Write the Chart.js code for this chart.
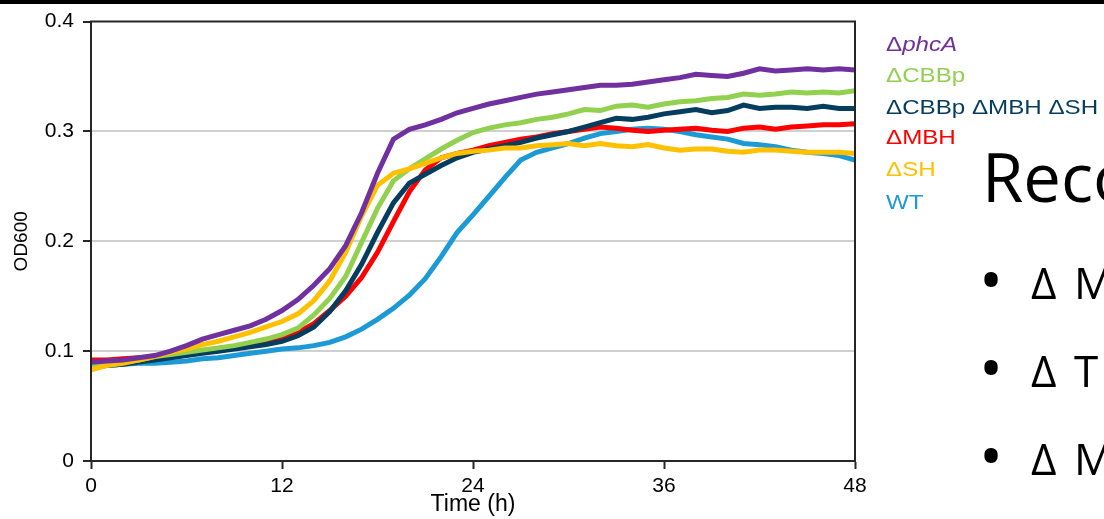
<!DOCTYPE html>
<html>
<head>
<meta charset="utf-8">
<script src="https://cdn.jsdelivr.net/npm/chart.js@4/dist/chart.umd.min.js"></script>
<style>
  html, body { margin: 0; padding: 0; background: #fff; }
  #wrap { position: relative; width: 1104px; height: 519px; overflow: hidden; background: #fff; }
  #chart { position: absolute; left: 0; top: 0; }
  .topbar { position: absolute; left: 0; top: 0; width: 1104px; height: 4px; background: #000; }
  .legend { position: absolute; left: 886px; top: 0; font-family: 'Liberation Sans', Arial, sans-serif; font-size: 21px; white-space: nowrap; }
  .legend div { position: absolute; left: 0; transform-origin: 0 50%; transform: scaleX(1.15); line-height: 24px; }
  .slide { position: absolute; font-family: 'Open Sans', 'Noto Sans', sans-serif; color: #000; white-space: nowrap; line-height: 1; }
  .dot { font-size: 64px; }
  .item { font-size: 44px; word-spacing: 6px; }
</style>
</head>
<body>
<div id="wrap">
  <canvas id="chart" width="1104" height="519"></canvas>
  <div class="topbar"></div>
  <div class="legend" id="legend"></div>
  <div class="slide" style="left:982px; top:143px; font-size:67px;">Reco</div>
  <div class="slide dot" style="left:979px; top:247px;">•</div>
  <div class="slide item" style="left:1031px; top:260px;">Δ M</div>
  <div class="slide dot" style="left:979px; top:335px;">•</div>
  <div class="slide item" style="left:1031px; top:348px;">Δ T</div>
  <div class="slide dot" style="left:979px; top:423px;">•</div>
  <div class="slide item" style="left:1031px; top:436px;">Δ M</div>
</div>
<script>
// Growth curves (OD600) sampled every hour, 0–48 h
const hours = Array.from({ length: 49 }, (_, i) => i);

const phcA = [
  0.090, 0.091, 0.092, 0.094, 0.096, 0.100, 0.105, 0.111, 0.115, 0.119,
  0.123, 0.129, 0.137, 0.147, 0.160, 0.175, 0.196, 0.226, 0.262, 0.293,
  0.302, 0.306, 0.311, 0.317, 0.321, 0.325, 0.328, 0.331, 0.334, 0.336,
  0.338, 0.340, 0.342, 0.342, 0.343, 0.345, 0.347, 0.349, 0.352, 0.351,
  0.350, 0.353, 0.357, 0.355, 0.356, 0.357, 0.356, 0.357, 0.356
];
const cbbp = [
  0.087, 0.088, 0.090, 0.092, 0.095, 0.097, 0.099, 0.101, 0.103, 0.105,
  0.108, 0.111, 0.115, 0.121, 0.133, 0.148, 0.168, 0.199, 0.230, 0.255,
  0.266, 0.275, 0.284, 0.292, 0.299, 0.303, 0.306, 0.308, 0.311, 0.313,
  0.316, 0.320, 0.319, 0.323, 0.324, 0.322, 0.325, 0.327, 0.328, 0.330,
  0.331, 0.334, 0.333, 0.334, 0.336, 0.335, 0.336, 0.335, 0.337
];
const cbbpMbhSh = [
  0.086, 0.087, 0.088, 0.090, 0.092, 0.094, 0.096, 0.098, 0.100, 0.102,
  0.104, 0.106, 0.109, 0.114, 0.122, 0.136, 0.155, 0.179, 0.208, 0.235,
  0.253, 0.261, 0.269, 0.276, 0.281, 0.284, 0.287, 0.290, 0.294, 0.297,
  0.300, 0.304, 0.308, 0.312, 0.311, 0.313, 0.316, 0.318, 0.320, 0.317,
  0.319, 0.324, 0.321, 0.322, 0.322, 0.321, 0.323, 0.321, 0.321
];
const mbh = [
  0.092, 0.092, 0.093, 0.094, 0.095, 0.097, 0.099, 0.100, 0.102, 0.104,
  0.107, 0.109, 0.111, 0.117, 0.125, 0.137, 0.150, 0.167, 0.190, 0.218,
  0.245, 0.265, 0.276, 0.280, 0.283, 0.287, 0.290, 0.293, 0.295, 0.298,
  0.300, 0.302, 0.304, 0.303, 0.301, 0.300, 0.301, 0.302, 0.303, 0.301,
  0.300, 0.303, 0.304, 0.302, 0.304, 0.305, 0.306, 0.306, 0.307
];
const sh = [
  0.083, 0.087, 0.089, 0.092, 0.095, 0.099, 0.102, 0.106, 0.109, 0.113,
  0.117, 0.122, 0.127, 0.134, 0.146, 0.164, 0.190, 0.223, 0.251, 0.262,
  0.266, 0.271, 0.276, 0.280, 0.282, 0.283, 0.285, 0.285, 0.287, 0.288,
  0.289, 0.287, 0.289, 0.287, 0.286, 0.288, 0.285, 0.283, 0.284, 0.284,
  0.282, 0.281, 0.283, 0.283, 0.282, 0.281, 0.281, 0.281, 0.280
];
const wt = [
  0.086, 0.087, 0.088, 0.089, 0.089, 0.090, 0.091, 0.093, 0.094, 0.096,
  0.098, 0.100, 0.102, 0.103, 0.105, 0.108, 0.113, 0.120, 0.129, 0.139,
  0.151, 0.166, 0.186, 0.208, 0.224, 0.241, 0.258, 0.274, 0.281, 0.285,
  0.289, 0.294, 0.298, 0.300, 0.302, 0.303, 0.302, 0.300, 0.297, 0.295,
  0.293, 0.289, 0.288, 0.286, 0.283, 0.281, 0.280, 0.278, 0.274
];

// Legend entries: [prefix, italic part, rest]
const seriesLabels = [
  ['Δ', 'phcA', ''],
  ['ΔCBBp', '', ''],
  ['ΔCBBp ΔMBH ΔSH', '', ''],
  ['ΔMBH', '', ''],
  ['ΔSH', '', ''],
  ['WT', '', '']
];
const seriesValues = [phcA, cbbp, cbbpMbhSh, mbh, sh, wt];
const seriesColors = ['#7030A0', '#92D050', '#053D5E', '#FF0000', '#FFC000', '#1B9AD6'];
const drawOrder = [0, 2, 3, 4, 1, 5]; // lower = drawn on top

const yTickLabels = ['0', '0.1', '0.2', '0.3', '0.4'];
const xTickValues = [0, 12, 24, 36, 48];

Chart.defaults.font.family = "'Liberation Sans', Arial, sans-serif";
Chart.defaults.color = '#000';

const datasets = seriesValues.map((vals, i) => ({
  label: seriesLabels[i].join(''),
  data: hours.map((h, k) => ({ x: h, y: vals[k] })),
  borderColor: seriesColors[i],
  backgroundColor: seriesColors[i],
  borderWidth: 5,
  pointRadius: 0,
  tension: 0,
  fill: false,
  order: drawOrder[i]
}));

// Box around the plot area
const frame = {
  id: 'frame',
  afterDatasetsDraw(chart) {
    const { ctx, chartArea: a } = chart;
    ctx.save();
    ctx.strokeStyle = '#262626';
    ctx.lineWidth = 2;
    ctx.beginPath();
    ctx.moveTo(a.left, a.bottom);
    ctx.lineTo(a.left, a.top);
    ctx.lineTo(a.right, a.top);
    ctx.lineTo(a.right, a.bottom);
    ctx.stroke();
    ctx.restore();
  }
};

new Chart(document.getElementById('chart'), {
  type: 'line',
  data: { datasets },
  plugins: [frame],
  options: {
    responsive: false,
    animation: false,
    layout: { padding: { top: 19, right: 249, left: 0, bottom: 0 } },
    plugins: { legend: { display: false }, tooltip: { enabled: false } },
    scales: {
      x: {
        type: 'linear',
        min: 0,
        max: 48,
        afterBuildTicks(scale) { scale.ticks = xTickValues.map(v => ({ value: v })); },
        ticks: { font: { size: 21 }, padding: 5, maxRotation: 0, color: '#000' },
        grid: { drawOnChartArea: false, drawTicks: true, tickLength: 8, tickColor: '#262626', tickWidth: 2 },
        border: { color: '#262626', width: 2 },
        title: { display: true, text: 'Time (h)', font: { size: 23 }, color: '#000', padding: { top: 0, bottom: 1 } },
        afterFit(scale) { scale.height = 58; }
      },
      y: {
        min: 0,
        max: 0.4,
        ticks: { stepSize: 0.1, font: { size: 21 }, padding: 9, color: '#000',
                 callback: (v, i) => yTickLabels[i] },
        grid: {
          color: c => (c.index === 0 || c.index === 4) ? 'rgba(0,0,0,0)' : '#D0D0D0',
          lineWidth: 2, tickLength: 8, tickColor: '#262626', tickWidth: 2
        },
        border: { color: '#262626', width: 2 },
        title: { display: true, text: 'OD600', font: { size: 19 }, color: '#000', padding: { top: 10, bottom: 0 } },
        afterFit(scale) { scale.width = 91; }
      }
    }
  }
});

// Colored text legend to the right of the plot
const legendEl = document.getElementById('legend');
const legendTops = [32, 63, 95, 125, 157, 190];
seriesLabels.forEach((parts, i) => {
  const d = document.createElement('div');
  d.style.top = legendTops[i] + 'px';
  d.style.color = seriesColors[i];
  d.appendChild(document.createTextNode(parts[0]));
  if (parts[1]) {
    const em = document.createElement('i');
    em.textContent = parts[1];
    d.appendChild(em);
  }
  if (parts[2]) d.appendChild(document.createTextNode(parts[2]));
  legendEl.appendChild(d);
});
</script>
</body>
</html>
